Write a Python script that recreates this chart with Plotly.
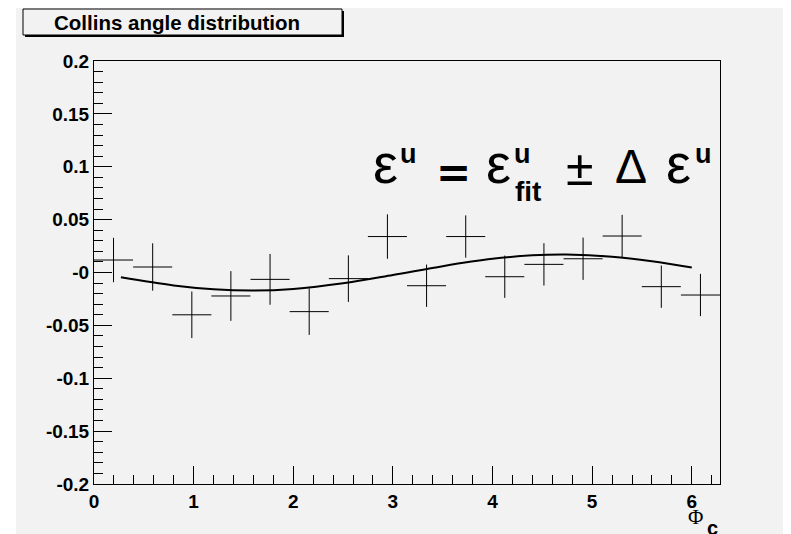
import plotly.graph_objects as go

# ---- data ----
phi_c = [0.196, 0.589, 0.982, 1.374, 1.767, 2.160, 2.553, 2.945,
         3.338, 3.731, 4.123, 4.516, 4.909, 5.301, 5.694, 6.087]
bin_half_width = [0.196] * 16
eps_u = [0.0118, 0.0052, -0.040, -0.0222, -0.0065, -0.037, -0.0058, 0.034,
         -0.0125, 0.034, -0.004, 0.0077, 0.013, 0.0345, -0.0134, -0.0213]
eps_err = [0.021, 0.0224, 0.022, 0.0235, 0.024, 0.022, 0.022, 0.021,
           0.020, 0.020, 0.020, 0.020, 0.020, 0.020, 0.020, 0.020]

fit_x = [0.27, 0.8, 1.2, 1.6, 2.0, 2.5, 3.0, 3.5, 4.0, 4.4, 4.74, 5.2, 5.6, 6.0]
fit_y = [-0.0045, -0.0122, -0.0158, -0.0170, -0.0155, -0.0102, -0.0024,
         0.0060, 0.0129, 0.0162, 0.0170, 0.0150, 0.0107, 0.0047]

y_tick_vals = [-0.2, -0.15, -0.1, -0.05, 0.0, 0.05, 0.1, 0.15, 0.2]
y_tick_text = ["-0.2", "-0.15", "-0.1", "-0.05", "-0", "0.05", "0.1", "0.15", "0.2"]
x_tick_vals = [0, 1, 2, 3, 4, 5, 6]
x_tick_text = ["0", "1", "2", "3", "4", "5", "6"]

# ---- layout geometry (page pixels; the page body has an 8px margin) ----
OFF = 8
PAGE_W, PAGE_H = 791, 534
W, H = PAGE_W - OFF, PAGE_H - OFF
PL, PR, PT, PB = 94, 720, 61, 484          # plot area edges in page pixels
L, T = PL - OFF, PT - OFF
R, B = W - (PR - OFF), H - (PB - OFF)
PW, PH = PR - PL, PB - PT
BG = "#f2f2f2"
SANS = "Liberation Sans, Arial, sans-serif"
SERIF = "Liberation Serif, Times New Roman, serif"


def px(x):
    return (x - PL) / PW


def py(y):
    return (PB - y) / PH


fig = go.Figure()

fig.add_trace(go.Scatter(
    x=phi_c, y=eps_u, mode="markers",
    marker=dict(size=1, color="black", opacity=0),
    error_x=dict(type="data", array=bin_half_width, width=0, thickness=1, color="black"),
    error_y=dict(type="data", array=eps_err, width=0, thickness=1, color="black"),
    showlegend=False, hoverinfo="skip",
))

fig.add_trace(go.Scatter(
    x=fit_x, y=fit_y, mode="lines",
    line=dict(color="black", width=2, shape="spline"),
    showlegend=False, hoverinfo="skip",
))

shapes = [
    # grey canvas pad
    dict(type="rect", xref="paper", yref="paper", layer="below",
         x0=px(16), x1=px(PAGE_W + 5), y0=py(5), y1=py(PAGE_H + 5),
         fillcolor=BG, line=dict(width=0)),
    # title box shadow
    dict(type="rect", xref="paper", yref="paper",
         x0=px(25), x1=px(344), y0=py(37), y1=py(11),
         fillcolor="black", line=dict(width=0)),
    # title box
    dict(type="rect", xref="paper", yref="paper",
         x0=px(23), x1=px(342), y0=py(35), y1=py(9),
         fillcolor=BG, line=dict(color="black", width=1)),
]

annotations = [
    dict(text="<b>Collins angle distribution</b>", x=px(176.5), y=py(22.5),
         font=dict(family=SANS, size=20.5, color="black")),
    # equation pieces
    dict(text="ε", x=px(385), y=py(163.6), font=dict(family=SANS, size=56, color="black")),
    dict(text="<b>u</b>", x=px(408.5), y=py(153.6), font=dict(family=SANS, size=27, color="black")),
    dict(text="<b>=</b>", x=px(453), y=py(172.5), font=dict(family="DejaVu Sans, " + SANS, size=42, color="black")),
    dict(text="ε", x=px(498.5), y=py(163.6), font=dict(family=SANS, size=56, color="black")),
    dict(text="<b>u</b>", x=px(522.5), y=py(153.6), font=dict(family=SANS, size=27, color="black")),
    dict(text="<b>fit</b>", x=px(528), y=py(191.3), font=dict(family=SANS, size=28, color="black")),
    dict(text="±", x=px(579), y=py(167.5), font=dict(family=SANS, size=50, color="black")),
    dict(text="Δ", x=px(630.5), y=py(166.4), font=dict(family=SANS, size=48, color="black")),
    dict(text="ε", x=px(678.5), y=py(163.6), font=dict(family=SANS, size=56, color="black")),
    dict(text="<b>u</b>", x=px(703), y=py(153.6), font=dict(family=SANS, size=27, color="black")),
    # x-axis title
    dict(text="Φ", x=px(695), y=py(516.5), font=dict(family=SERIF, size=21, color="black")),
    dict(text="<b>c</b>", x=px(712.5), y=py(527.5), font=dict(family=SANS, size=20, color="black")),
]
for a in annotations:
    a.update(xref="paper", yref="paper", xanchor="center", yanchor="middle",
             showarrow=False, borderpad=0)

axis_common = dict(
    showgrid=False, zeroline=False, showline=True, linecolor="black", linewidth=1,
    mirror=True, ticks="inside", ticklen=18, tickwidth=1, tickcolor="black",
    tickfont=dict(family=SANS, size=19, color="black", weight="bold"),
)

fig.update_layout(
    width=W, height=H, autosize=False,
    margin=dict(l=L, r=R, t=T, b=B, pad=0),
    paper_bgcolor="white", plot_bgcolor=BG,
    shapes=shapes, annotations=annotations,
    xaxis=dict(range=[0, 6.2832], tickmode="array", tickvals=x_tick_vals,
               ticktext=x_tick_text,
               minor=dict(dtick=0.2, tick0=0, ticks="inside", ticklen=9,
                          tickcolor="black", tickwidth=1, showgrid=False),
               **axis_common),
    yaxis=dict(range=[-0.2, 0.2], tickmode="array", tickvals=y_tick_vals,
               ticktext=y_tick_text,
               minor=dict(dtick=0.01, tick0=0, ticks="inside", ticklen=9,
                          tickcolor="black", tickwidth=1, showgrid=False),
               **axis_common),
)

fig.write_html("out.html")
